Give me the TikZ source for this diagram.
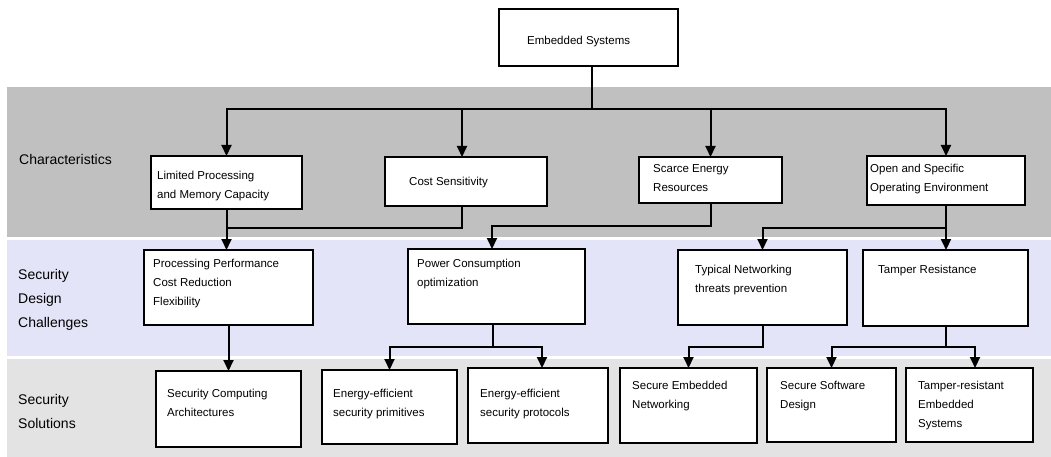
\documentclass[tikz,border=0pt]{standalone}
\usepackage{fontspec}
\setmainfont{Liberation Sans}
\usetikzlibrary{arrows.meta}
\definecolor{bandA}{HTML}{C0C0C0}
\definecolor{bandB}{HTML}{E4E4F8}
\definecolor{bandC}{HTML}{E3E3E3}
\tikzset{
  band/.style={draw=none},
  boxnode/.style={draw=black, fill=white, line width=2pt, inner sep=0pt, outer sep=0pt, anchor=north west},
  boxtext/.style={font=\fontsize{11.5}{19}\selectfont, align=left, inner sep=0pt, anchor=north west},
  bandtext/.style={font=\fontsize{14}{24}\selectfont, align=left, inner sep=0pt, anchor=north west},
  ln/.style={draw=black, line width=2pt, line join=miter},
  arr/.style={ln, -{Triangle[width=10pt,length=11pt]}}
}
\begin{document}
\begin{tikzpicture}[x=1pt,y=-1pt]
\useasboundingbox (0,0) rectangle (1051,457);
% bands
\fill[bandA] (7,87) rectangle (1051,237);
\fill[bandB] (7,240) rectangle (1051,356);
\fill[bandC] (7,359) rectangle (1051,457);
\node[bandtext] (lab1) at (19,154) {Characteristics};
\node[bandtext] (lab2) at (18,269.5) {Security\\Design\\Challenges};
\node[bandtext] (lab3) at (18,394.5) {Security\\Solutions};
% boxes
\node[boxnode, minimum width=179pt, minimum height=57pt] (es) at (499,9) {};
\node[boxnode, minimum width=151pt, minimum height=53pt] (lp) at (151,156) {};
\node[boxnode, minimum width=162pt, minimum height=49pt] (cs) at (385,157) {};
\node[boxnode, minimum width=143pt, minimum height=46pt] (se) at (639,157) {};
\node[boxnode, minimum width=158pt, minimum height=49pt] (os) at (867,156) {};
\node[boxnode, minimum width=169pt, minimum height=75pt] (pp) at (144,250) {};
\node[boxnode, minimum width=177pt, minimum height=75pt] (pc) at (408,249) {};
\node[boxnode, minimum width=169pt, minimum height=75pt] (tn) at (678,250) {};
\node[boxnode, minimum width=165pt, minimum height=76pt] (tr) at (863,250) {};
\node[boxnode, minimum width=145pt, minimum height=76pt] (sca) at (156,371) {};
\node[boxnode, minimum width=135pt, minimum height=74pt] (eep) at (322,370) {};
\node[boxnode, minimum width=140pt, minimum height=75pt] (eepr) at (468,368) {};
\node[boxnode, minimum width=137pt, minimum height=75pt] (sen) at (620,368) {};
\node[boxnode, minimum width=129pt, minimum height=74pt] (ssd) at (767,368) {};
\node[boxnode, minimum width=127pt, minimum height=74pt] (tres) at (906,368) {};
% texts
\node[boxtext] (t-es) at (527,35.5) {Embedded Systems};
\node[boxtext] (t-lp) at (157,170.5) {Limited Processing\\and Memory Capacity};
\node[boxtext] (t-cs) at (409,176.5) {Cost Sensitivity};
\node[boxtext] (t-se) at (653,164) {Scarce Energy\\Resources};
\node[boxtext] (t-os) at (870,163.5) {Open and Specific\\Operating Environment};
\node[boxtext] (t-pp) at (153,258.5) {Processing Performance\\Cost Reduction\\Flexibility};
\node[boxtext] (t-pc) at (417,258.5) {Power Consumption\\optimization};
\node[boxtext] (t-tn) at (695,264.5) {Typical Networking\\threats prevention};
\node[boxtext] (t-tr) at (878,264.5) {Tamper Resistance};
\node[boxtext] (t-sca) at (167,388.5) {Security Computing\\Architectures};
\node[boxtext] (t-eep) at (333,388.5) {Energy-efficient\\security primitives};
\node[boxtext] (t-eepr) at (480,388.5) {Energy-efficient\\security protocols};
\node[boxtext] (t-sen) at (632,380.5) {Secure Embedded\\Networking};
\node[boxtext] (t-ssd) at (780,380.5) {Secure Software\\Design};
\node[boxtext] (t-tres) at (918,380.5) {Tamper-resistant\\Embedded\\Systems};
% junction coordinates
\coordinate (stem) at (592,109);
\coordinate (dcs) at (462,109);
\coordinate (j1) at (462,228);
\coordinate (j2) at (492,226);
\coordinate (j3) at (946,228);
\coordinate (j4) at (493,347);
\coordinate (j5) at (542,347);
\coordinate (j6) at (763,347);
\coordinate (j7) at (946,347);
\coordinate (j8) at (975,347);
% top level
\draw[ln] (es.south -| stem) -- (stem);
\draw[arr] (stem) -| (lp.north);
\draw[arr] (stem) -| (os.north);
\draw[arr] (dcs) -- (dcs |- cs.north);
\draw[arr] (se.north |- stem) -- (se.north);
% characteristics -> challenges
\draw[arr] (lp.south) -- (lp.south |- pp.north);
\draw[ln] (j1 |- cs.south) -- (j1) -- (lp.south |- j1);
\draw[arr] (se.south) |- (j2) -- (j2 |- pc.north);
\draw[arr] (os.south) -- (os.south |- tr.north);
\draw[arr] (os.south |- j3) -| (tn.north);
% challenges -> solutions
\draw[arr] (pp.south) -- (pp.south |- sca.north);
\draw[ln] (j4 |- pc.south) -- (j4);
\draw[arr] (j4) -| (eep.north);
\draw[arr] (j4) -- (j5) -- (j5 |- eepr.north);
\draw[arr] (j6 |- tn.south) -- (j6) -| (sen.north);
\draw[ln] (j7 |- tr.south) -- (j7);
\draw[arr] (j7) -| (ssd.north);
\draw[arr] (j7) -- (j8) -- (j8 |- tres.north);
\end{tikzpicture}
\end{document}
